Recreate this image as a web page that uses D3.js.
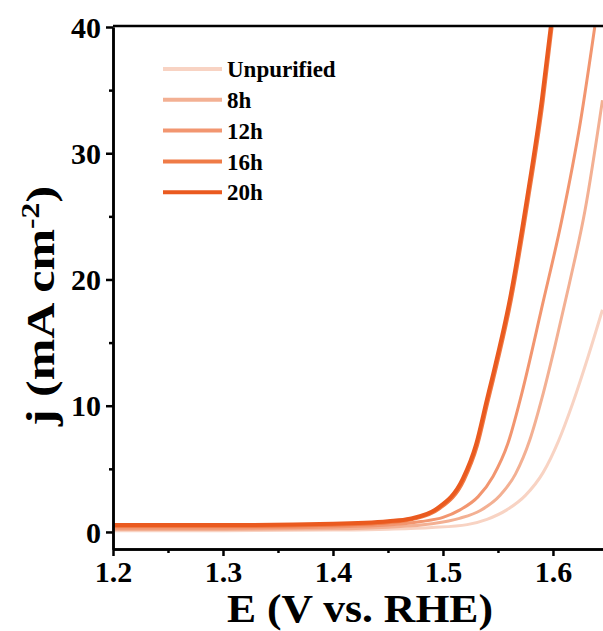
<!DOCTYPE html>
<html>
<head>
<meta charset="utf-8">
<script src="https://cdn.jsdelivr.net/npm/d3@7"></script>
<style>
  body { margin: 0; background: #fff; }
  svg text { font-family: "Liberation Serif", "Times New Roman", serif; font-weight: bold; }
</style>
</head>
<body>
<svg id="chart" width="603" height="631"></svg>
<script>
// data: [E (V vs. RHE), j (mA cm-2)]
var seriesNames = ['Unpurified', '8h', '12h', '16h', '20h'];
var seriesColors = ['#f8d3c3', '#f3b093', '#f29670', '#ef7b47', '#ea5a1f'];

var unpurified = [[1.20, 0.10], [1.30, 0.10], [1.40, 0.15], [1.45, 0.22], [1.49, 0.35], [1.522, 0.58],
  [1.540, 1.0], [1.558, 1.75], [1.575, 2.9], [1.591, 4.7], [1.605, 7.2], [1.618, 10.2],
  [1.632, 13.9], [1.645, 17.6]];
var h8 = [[1.20, 0.20], [1.30, 0.20], [1.40, 0.25], [1.45, 0.38], [1.49, 0.65], [1.515, 1.08],
  [1.534, 1.7], [1.552, 2.9], [1.566, 4.6], [1.579, 7.3], [1.590, 10.6], [1.602, 14.8],
  [1.615, 19.7], [1.629, 25.4], [1.645, 34.2]];
var h12 = [[1.20, 0.30], [1.30, 0.30], [1.40, 0.40], [1.45, 0.55], [1.48, 0.82], [1.50, 1.15],
  [1.5155, 1.75], [1.532, 2.8], [1.5455, 4.4], [1.559, 7.0], [1.570, 10.4], [1.591, 18.2],
  [1.608, 24.7], [1.625, 32.5], [1.638, 40.0]];
var h16 = [[1.20, 0.45], [1.30, 0.45], [1.40, 0.55], [1.45, 0.75], [1.472, 1.0], [1.496, 1.8],
  [1.519, 4.1], [1.531, 6.8], [1.541, 10.4], [1.5455, 12.0], [1.562, 18.4], [1.5774, 26.3],
  [1.591, 34.2], [1.599, 40.0]];
var h20 = [[1.20, 0.55], [1.30, 0.55], [1.40, 0.65], [1.45, 0.85], [1.47, 1.05], [1.4945, 1.85],
  [1.518, 4.2], [1.530, 6.9], [1.540, 10.5], [1.5445, 12.1], [1.561, 18.5], [1.5764, 26.4],
  [1.590, 34.3], [1.598, 40.0]];
var seriesData = [unpurified, h8, h12, h16, h20];
var seriesWidths = [3, 3, 3, 3.5, 4];

var xTicks = [1.2, 1.3, 1.4, 1.5, 1.6];
var xMinor = [1.25, 1.35, 1.45, 1.55];
var yTicks = [0, 10, 20, 30, 40];
var yMinor = [5, 15, 25, 35];

var svg = d3.select('#chart');
var plotL = 113, plotR = 603, plotT = 27, plotB = 549;

var x = d3.scaleLinear().domain([1.2, 1.6455]).range([plotL, plotR]);
var y = d3.scaleLinear().domain([-1.35, 40]).range([plotB, plotT]);

svg.append('clipPath').attr('id', 'clip')
  .append('rect').attr('x', plotL).attr('y', plotT - 1).attr('width', plotR - plotL).attr('height', plotB - plotT + 1);

var line = d3.line()
  .x(function (d) { return x(d[0]); })
  .y(function (d) { return y(d[1]); })
  .curve(d3.curveMonotoneX);

svg.append('g').attr('clip-path', 'url(#clip)')
  .selectAll('path')
  .data(seriesData)
  .enter()
  .append('path')
  .attr('d', line)
  .attr('fill', 'none')
  .attr('stroke', function (d, i) { return seriesColors[i]; })
  .attr('stroke-width', function (d, i) { return seriesWidths[i]; })
  .attr('stroke-linejoin', 'round');

// axes
var xAxis = svg.append('g').attr('transform', 'translate(0,' + plotB + ')')
  .call(d3.axisBottom(x).tickValues(xTicks).tickSize(7).tickSizeOuter(0).tickFormat(d3.format('.1f')));
svg.append('g').attr('transform', 'translate(0,' + plotB + ')')
  .call(d3.axisBottom(x).tickValues(xMinor).tickSize(4).tickSizeOuter(0).tickFormat(''));
var yAxis = svg.append('g').attr('transform', 'translate(' + plotL + ',0)')
  .call(d3.axisLeft(y).tickValues(yTicks).tickSize(7).tickSizeOuter(0));
svg.append('g').attr('transform', 'translate(' + plotL + ',0)')
  .call(d3.axisLeft(y).tickValues(yMinor).tickSize(4).tickSizeOuter(0).tickFormat(''));

svg.selectAll('.domain').attr('stroke', '#000').attr('stroke-width', 2.5);
svg.selectAll('.tick line').attr('stroke', '#000').attr('stroke-width', 2.5);
svg.selectAll('.tick text').attr('fill', '#000').style('font-size', '30px')
  .style('font-family', '"Liberation Serif", serif').style('font-weight', 'bold');
xAxis.selectAll('.tick text').attr('dy', null).attr('y', 33);
yAxis.selectAll('.tick text').attr('x', -12).attr('dy', '0.34em');

// top frame
svg.append('line').attr('x1', plotL).attr('x2', plotR).attr('y1', plotT - 1).attr('y2', plotT - 1)
  .attr('stroke', '#000').attr('stroke-width', 2.5);

// axis titles
svg.append('text').attr('x', 360).attr('y', 622).attr('text-anchor', 'middle')
  .attr('textLength', 266).attr('lengthAdjust', 'spacingAndGlyphs')
  .style('font-size', '41px').text('E (V vs. RHE)');

var yt = svg.append('text').attr('transform', 'translate(54,306) rotate(-90) scale(1.22,1)')
  .attr('text-anchor', 'middle').style('font-size', '41px');
yt.append('tspan').text('j (mA cm');
yt.append('tspan').attr('dy', -15).style('font-size', '26px').text('-2');
yt.append('tspan').attr('dy', 15).text(')');

// legend
var legend = svg.append('g').selectAll('g')
  .data(seriesNames)
  .enter()
  .append('g')
  .attr('transform', function (d, i) { return 'translate(163,' + (69 + i * 30.8) + ')'; });
legend.append('line').attr('x1', 0).attr('x2', 59)
  .attr('stroke', function (d, i) { return seriesColors[i]; })
  .attr('stroke-width', 4);
legend.append('text').attr('x', 64).attr('dy', '0.36em')
  .style('font-size', '23px').text(function (d) { return d; });
</script>
</body>
</html>
